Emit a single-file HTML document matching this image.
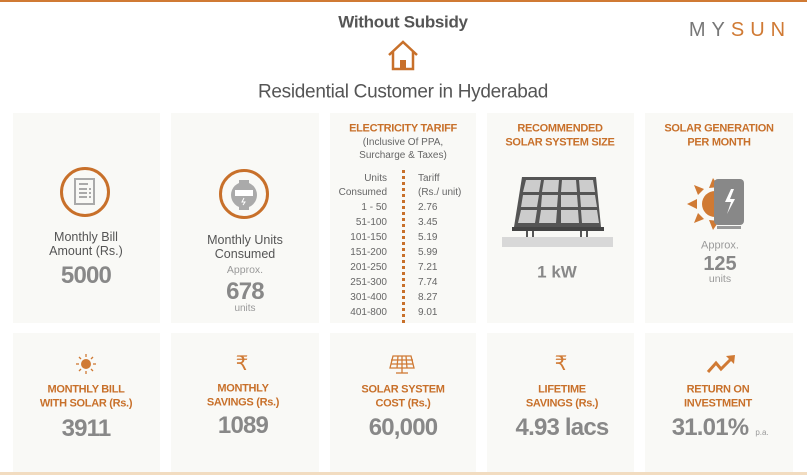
<!DOCTYPE html>
<html><head><meta charset="utf-8"><style>
*{margin:0;padding:0;box-sizing:border-box}
body{width:807px;height:475px;background:#fff;position:relative;overflow:hidden;font-family:"Liberation Sans",sans-serif;color:#555}
.c{position:absolute;background:#f9f9f6}
.t{position:absolute;white-space:nowrap;transform:translate(-50%,-50%);text-align:center;line-height:1}
.o{color:#c8702a;font-weight:bold;font-size:11px;letter-spacing:-0.3px}
.n{color:#888;font-weight:bold;font-size:24px;letter-spacing:-0.8px}
.s{font-size:12.5px;color:#555}
.r{position:absolute;font-size:10px;color:#666;line-height:1;transform:translateY(-50%)}
</style></head><body>
<div style="position:absolute;left:0;top:0;width:807px;height:2px;background:#d07a34"></div>
<div style="position:absolute;left:0;top:472px;width:807px;height:3px;background:#f2dcc0"></div>
<div class="t" style="left:403px;top:22px;font-size:17px;font-weight:bold;color:#555;letter-spacing:-0.3px">Without Subsidy</div>
<svg style="position:absolute;left:386px;top:40px" width="34" height="32" viewBox="0 0 34 32"><path d="M3 15 L17 2 L31 15 M7 12 V29 H27 V12" fill="none" stroke="#c8702a" stroke-width="2.5"/><rect x="14" y="20" width="6" height="9" fill="#c8702a"/></svg>
<div class="t" style="left:403px;top:92px;font-size:19px;color:#555;letter-spacing:-0.3px">Residential Customer in Hyderabad</div>
<div class="t" style="left:740px;top:30px;font-size:20px;letter-spacing:6px;color:#777">MY<span style="color:#d07a34">SUN</span></div>

<div class="c" style="left:13px;top:113px;width:147px;height:210px"></div>
<div class="c" style="left:171px;top:113px;width:148px;height:210px"></div>
<div class="c" style="left:330px;top:113px;width:146px;height:210px"></div>
<div class="c" style="left:487px;top:113px;width:147px;height:210px"></div>
<div class="c" style="left:645px;top:113px;width:148px;height:210px"></div>
<div class="c" style="left:13px;top:333px;width:147px;height:139px"></div>
<div class="c" style="left:171px;top:333px;width:148px;height:139px"></div>
<div class="c" style="left:330px;top:333px;width:146px;height:139px"></div>
<div class="c" style="left:487px;top:333px;width:147px;height:139px"></div>
<div class="c" style="left:645px;top:333px;width:148px;height:139px"></div>

<!-- card1 -->
<svg style="position:absolute;left:59px;top:166px" width="52" height="52"><circle cx="26" cy="26" r="23.5" fill="none" stroke="#c8702a" stroke-width="3"/><rect x="16" y="13" width="19" height="25" fill="none" stroke="#aaa" stroke-width="2"/><g stroke="#aaa" stroke-width="2"><line x1="20" y1="18" x2="29" y2="18"/><line x1="20" y1="23" x2="28" y2="23"/><line x1="20" y1="27" x2="28" y2="27"/><line x1="20" y1="31" x2="28" y2="31"/><line x1="30" y1="23" x2="32" y2="23"/><line x1="30" y1="27" x2="32" y2="27"/><line x1="30" y1="31" x2="32" y2="31"/></g></svg>
<div class="t s" style="left:86px;top:237px">Monthly Bill</div>
<div class="t s" style="left:86px;top:251px">Amount (Rs.)</div>
<div class="t n" style="left:86px;top:276px">5000</div>
<!-- card2 -->
<svg style="position:absolute;left:218px;top:168px" width="52" height="52"><circle cx="26" cy="26" r="23.5" fill="none" stroke="#c8702a" stroke-width="3"/><circle cx="26" cy="27" r="13" fill="#aaa"/><rect x="17" y="22" width="18" height="6" fill="#fff"/><rect x="21" y="12" width="10" height="3" fill="#aaa"/><rect x="21" y="39" width="10" height="3" fill="#aaa"/><path d="M26 30 l-2 4 h3 l-2 3" stroke="#fff" fill="none"/></svg>
<div class="t s" style="left:245px;top:240px">Monthly Units</div>
<div class="t s" style="left:245px;top:254px">Consumed</div>
<div class="t" style="left:245px;top:270px;font-size:10.5px;color:#999">Approx.</div>
<div class="t n" style="left:245px;top:292px">678</div>
<div class="t" style="left:245px;top:309px;font-size:10px;color:#999">units</div>
<!-- card3 -->
<div class="t o" style="left:403px;top:129px">ELECTRICITY TARIFF</div>
<div class="t" style="left:403px;top:143px;font-size:10px;color:#666">(Inclusive Of PPA,</div>
<div class="t" style="left:403px;top:156px;font-size:10px;color:#666">Surcharge &amp; Taxes)</div>
<div style="position:absolute;left:402px;top:170px;height:153px;border-left:3px dotted #c8702a"></div>
<div class="r" style="right:420px;top:179px">Units</div>
<div class="r" style="right:420px;top:193px">Consumed</div>
<div class="r" style="right:420px;top:208px">1 - 50</div>
<div class="r" style="right:420px;top:223px">51-100</div>
<div class="r" style="right:420px;top:238px">101-150</div>
<div class="r" style="right:420px;top:253px">151-200</div>
<div class="r" style="right:420px;top:268px">201-250</div>
<div class="r" style="right:420px;top:283px">251-300</div>
<div class="r" style="right:420px;top:298px">301-400</div>
<div class="r" style="right:420px;top:313px">401-800</div>
<div class="r" style="left:418px;top:179px">Tariff</div>
<div class="r" style="left:418px;top:193px">(Rs./ unit)</div>
<div class="r" style="left:418px;top:208px">2.76</div>
<div class="r" style="left:418px;top:223px">3.45</div>
<div class="r" style="left:418px;top:238px">5.19</div>
<div class="r" style="left:418px;top:253px">5.99</div>
<div class="r" style="left:418px;top:268px">7.21</div>
<div class="r" style="left:418px;top:283px">7.74</div>
<div class="r" style="left:418px;top:298px">8.27</div>
<div class="r" style="left:418px;top:313px">9.01</div>
<!-- card4 -->
<div class="t o" style="left:560px;top:129px">RECOMMENDED</div>
<div class="t o" style="left:560px;top:143px">SOLAR SYSTEM SIZE</div>
<svg style="position:absolute;left:500px;top:175px" width="115" height="73"><polygon points="22,2 96,2 101,52 14,52" fill="#555"/><g fill="#ccc"><polygon points="26,5 41,5 39,17 23,17"/><polygon points="44,5 59,5 58,17 42,17"/><polygon points="62,5 76,5 77,17 61,17"/><polygon points="79,5 93,5 95,17 80,17"/><polygon points="23,20 39,20 37,32 21,32"/><polygon points="42,20 58,20 57,32 41,32"/><polygon points="61,20 77,20 78,32 61,32"/><polygon points="80,20 95,20 97,32 81,32"/><polygon points="21,35 37,35 35,48 18,48"/><polygon points="41,35 57,35 56,48 39,48"/><polygon points="61,35 78,35 79,48 61,48"/><polygon points="81,35 97,35 99,48 82,48"/></g><rect x="12" y="52" width="92" height="4" fill="#444"/><rect x="26" y="56" width="2" height="6" fill="#555"/><rect x="32" y="56" width="2" height="6" fill="#555"/><rect x="80" y="56" width="2" height="6" fill="#555"/><rect x="86" y="56" width="2" height="6" fill="#555"/><rect x="2" y="62" width="111" height="10" fill="#d8d8d8"/></svg>
<div class="t" style="left:557px;top:272px;font-size:17px;font-weight:bold;color:#888">1 kW</div>
<!-- card5 -->
<div class="t o" style="left:719px;top:129px">SOLAR GENERATION</div>
<div class="t o" style="left:719px;top:143px">PER MONTH</div>
<svg style="position:absolute;left:685px;top:177px" width="62" height="54"><g fill="#d07a34"><circle cx="30" cy="27" r="13"/><polygon points="2,27 12,22 12,32"/><polygon points="9,8 19,12 13,18"/><polygon points="9,46 13,36 19,42"/><polygon points="28,1 34,10 24,11"/><polygon points="28,53 24,43 34,44"/></g><rect x="29" y="2" width="30" height="46" rx="4" fill="#888"/><rect x="32" y="49" width="24" height="3" fill="#999"/><path d="M46 12 l-6 13 h6 l-4 12 l8 -15 h-5 l4 -10z" fill="#fff"/></svg>
<div class="t" style="left:720px;top:246px;font-size:11px;color:#999">Approx.</div>
<div class="t" style="left:720px;top:264px;font-size:20px;font-weight:bold;color:#888">125</div>
<div class="t" style="left:720px;top:279px;font-size:10.5px;color:#999">units</div>

<!-- bottom row -->
<svg style="position:absolute;left:76px;top:354px" width="20" height="20"><circle cx="10" cy="10" r="5" fill="#d07a34"/><g stroke="#d07a34" stroke-width="1.3"><line x1="10" y1="0" x2="10" y2="3"/><line x1="10" y1="17" x2="10" y2="20"/><line x1="0" y1="10" x2="3" y2="10"/><line x1="17" y1="10" x2="20" y2="10"/><line x1="3" y1="3" x2="5" y2="5"/><line x1="15" y1="15" x2="17" y2="17"/><line x1="3" y1="17" x2="5" y2="15"/><line x1="15" y1="5" x2="17" y2="3"/></g></svg>
<div class="t o" style="left:86px;top:390px">MONTHLY BILL</div>
<div class="t o" style="left:86px;top:404px">WITH SOLAR (Rs.)</div>
<div class="t n" style="left:86px;top:429px">3911</div>

<div class="t" style="left:242px;top:364px;font-size:20px;color:#d07a34">₹</div>
<div class="t o" style="left:243px;top:389px">MONTHLY</div>
<div class="t o" style="left:243px;top:403px">SAVINGS (Rs.)</div>
<div class="t n" style="left:243px;top:426px">1089</div>

<svg style="position:absolute;left:389px;top:355px" width="26" height="20"><g fill="none" stroke="#d07a34" stroke-width="1.3"><polygon points="4,1 22,1 25,13 1,13"/><line x1="9" y1="1" x2="8" y2="13"/><line x1="13" y1="1" x2="13" y2="13"/><line x1="17" y1="1" x2="18" y2="13"/><line x1="2" y1="5" x2="24" y2="5"/><line x1="2" y1="9" x2="24" y2="9"/><line x1="13" y1="13" x2="13" y2="18"/><line x1="7" y1="18" x2="19" y2="18"/></g></svg>
<div class="t o" style="left:403px;top:390px">SOLAR SYSTEM</div>
<div class="t o" style="left:403px;top:404px">COST (Rs.)</div>
<div class="t n" style="left:403px;top:428px">60,000</div>

<div class="t" style="left:561px;top:364px;font-size:20px;color:#d07a34">₹</div>
<div class="t o" style="left:562px;top:390px">LIFETIME</div>
<div class="t o" style="left:562px;top:404px">SAVINGS (Rs.)</div>
<div class="t n" style="left:562px;top:428px">4.93 lacs</div>

<svg style="position:absolute;left:706px;top:355px" width="30" height="20"><path d="M2 17 L10 8 L15 14 L26 3" fill="none" stroke="#d07a34" stroke-width="3"/><polygon points="20,1 29,0 28,9" fill="#d07a34"/></svg>
<div class="t o" style="left:718px;top:390px">RETURN ON</div>
<div class="t o" style="left:718px;top:404px">INVESTMENT</div>
<div class="t n" style="left:710px;top:428px">31.01%</div>
<div class="t" style="left:762px;top:433px;font-size:8px;color:#999">p.a.</div>
</body></html>
